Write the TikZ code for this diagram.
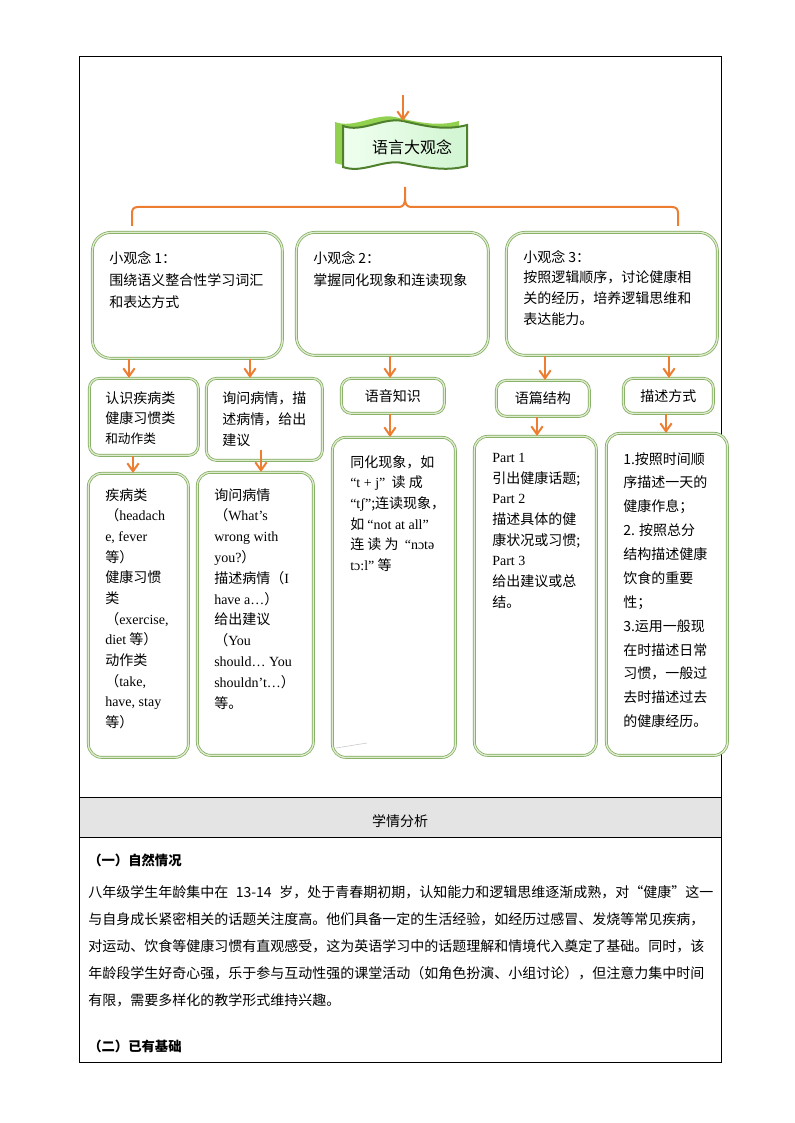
\documentclass[tikz,border=0pt]{standalone}
\usepackage{fontspec}
\setmainfont{Liberation Serif}
\newfontfamily\zh{Noto Sans CJK SC}
\usetikzlibrary{arrows.meta,calc}
\XeTeXlinebreaklocale "zh"
\XeTeXlinebreakskip=0pt plus 1pt
\definecolor{arrorange}{RGB}{237,125,49}
\definecolor{boxgreen}{RGB}{128,170,92}
\definecolor{boxlight}{RGB}{222,236,208}
\definecolor{ribbondark}{RGB}{79,128,45}
\definecolor{ribbonfold}{RGB}{146,208,80}
\definecolor{headgray}{RGB}{228,228,228}
\newcommand{\en}[1]{{\rmfamily #1}}

\tikzset{
  sz/.style 2 args={minimum width=#1*0.75pt, minimum height=#2*0.75pt},
  lead/.style={font=\zh\fontsize{10.5}{#1}\selectfont},
  bigbox/.style={draw=boxgreen, double=boxlight, double distance=1pt, line width=.55pt,
    fill=white, rounded corners=14pt, anchor=north west, inner sep=0pt, lead=15.5},
  smallbox/.style={bigbox, rounded corners=7.5pt},
  tallbox/.style={bigbox, rounded corners=10pt},
  txt/.style={anchor=north west, inner sep=0pt, align=left},
  arr/.style={draw=arrorange, line width=1.5pt, -{Straight Barb[length=6pt,width=8.5pt]}},
  rule/.style={draw=black, line width=.75pt},
}

\begin{document}
\begin{tikzpicture}[x=0.75pt,y=-0.75pt]
\useasboundingbox (0,0) rectangle (794,1123);

% table
\fill[headgray] (79,797) rectangle (721,837);
\draw[rule] (79,57) rectangle (721,1062);
\draw[rule] (79,797) -- (721,797);
\draw[rule] (79,837) -- (721,837);

% ribbon
\fill[ribbonfold, shift={(-8,-4)}] (343,126) .. controls (362,133) and (383,117) .. (403,121)
  .. controls (425,126) and (445,131) .. (467,125) -- (467,166)
  .. controls (445,172) and (425,167) .. (403,163)
  .. controls (383,159) and (362,174) .. (343,167) -- cycle;
\draw[ribbondark, line width=1.5pt, left color=green!6!white, right color=black!22!green!18!white]
  (343,126) .. controls (362,133) and (383,117) .. (403,121)
  .. controls (425,126) and (445,131) .. (467,125) -- (467,166)
  .. controls (445,172) and (425,167) .. (403,163)
  .. controls (383,159) and (362,174) .. (343,167) -- cycle;
\node[font=\zh\fontsize{12}{14}\selectfont] (idea) at (412,147) {语言大观念};
\coordinate (src) at (403,95);
\coordinate (idtop) at (403,121);
\draw[arr] (src) -- (idtop);

% brace
\draw[arrorange, line width=1.5pt] (132,226) -- (132,213) .. controls (132,209) and (134,207) .. (138,207)
  -- (399,207) .. controls (403,207) and (405,204) .. (405,199) -- (405,187);
\draw[arrorange, line width=1.5pt] (405,199) .. controls (405,204) and (407,207) .. (411,207)
  -- (672,207) .. controls (676,207) and (678,209) .. (678,213) -- (678,226);

% small ideas
\node[bigbox, sz={190}{126}] (obs1) at (92,232) {};
\node[bigbox, sz={192}{123}] (obs2) at (296,232) {};
\node[bigbox, sz={211}{123}] (obs3) at (506,232) {};
\node[txt, lead=16.5] (obs1t) at (109,251) {小观念 1：\\围绕语义整合性学习词汇\\和表达方式};
\node[txt, lead=16.5] (obs2t) at (313,251) {小观念 2：\\掌握同化现象和连读现象};
\node[txt, lead=15.5] (obs3t) at (523,250) {小观念 3：\\按照逻辑顺序，讨论健康相\\关的经历，培养逻辑思维和\\表达能力。};

% knowledge
\node[smallbox, sz={109}{77}] (ka) at (89,378) {};
\node[smallbox, sz={116}{82}] (kb) at (206,378) {};
\node[smallbox, sz={103}{35}] (kc) at (341,378) {语音知识};
\node[smallbox, sz={93}{36}] (kd) at (496,380) {语篇结构};
\node[smallbox, sz={90}{35}] (ke) at (623,378) {描述方式};
\node[txt, lead=15] (kat) at (105,391) {认识疾病类\\健康习惯类\\{\fontsize{9.5}{15}\selectfont 和动作类}};
\node[txt, lead=15.75] (kbt) at (222,391) {询问病情，描\\述病情，给出\\建议};

% details
\node[tallbox, sz={100}{284}] (da) at (88,473) {};
\node[tallbox, sz={116}{283}] (db) at (197,472) {};
\node[tallbox, sz={123}{320}] (dc) at (332,437) {};
\node[tallbox, sz={122}{319}] (dd) at (474,436) {};
\node[tallbox, sz={121}{322}] (de) at (606,433) {};
\draw[gray!45, line width=.4pt] (336,748) -- (367,743);

\node[txt, lead=15.5] (dat) at (105,488) {疾病类\\（\en{headach}\\\en{e, fever}\\等）\\健康习惯\\类\\（\en{exercise,}\\\en{diet} 等）\\动作类\\（\en{take,}\\\en{have, stay}\\等）};
\node[txt, lead=15.6] (dbt) at (214,488) {询问病情\\（\en{What's}\\\en{wrong with}\\\en{you?}）\\描述病情（\en{I}\\\en{have a\dots}）\\给出建议\\（\en{You}\\\en{should\dots\ You}\\\en{shouldn't\dots}）\\等。};
\node[txt, lead=15.5] (dct) at (350,455) {同化现象，如\\\en{“t + j”}\ \ 读 成\\\en{“tʃ”};连读现象，\\如 \en{“not at all”}\\连 读 为 \ \en{“nɔtə}\\\en{tɔ:l”} 等};
\node[txt, lead=15.5] (ddt) at (492,453) {\en{Part 1}\\引出健康话题;\\\en{Part 2}\\描述具体的健\\康状况或习惯;\\\en{Part 3}\\给出建议或总\\结。};
\node[txt, lead=17.9] (det) at (623,452) {1.按照时间顺\\序描述一天的\\健康作息；\\2. 按照总分\\结构描述健康\\饮食的重要\\性；\\3.运用一般现\\在时描述日常\\习惯，一般过\\去时描述过去\\的健康经历。};

% arrows
\draw[arr] (obs1.south -| 129,0) -- (ka.north -| 129,0);
\draw[arr] (obs1.south -| 250,0) -- (kb.north -| 250,0);
\draw[arr] (obs2.south -| 390,0) -- (kc.north -| 390,0);
\draw[arr] (obs3.south -| 545,0) -- (kd.north -| 545,0);
\draw[arr] (obs3.south -| 669,0) -- (ke.north -| 669,0);
\draw[arr] (ka.south -| 133,0) -- (da.north -| 133,0);
\draw[arr] ($(kb.south -| 261,0)+(0,-11)$) -- (db.north -| 261,0);
\draw[arr] (kc.south -| 390,0) -- (dc.north -| 390,0);
\draw[arr] (kd.south -| 537,0) -- (dd.north -| 537,0);
\draw[arr] (ke.south -| 666,0) -- (de.north -| 666,0);

% analysis
\node[lead=12] (title) at (400,821) {学情分析};
\node[lead=12, font=\zh\bfseries, anchor=base west, inner sep=0pt] (sec1) at (88,865) {（一）自然情况};
\node[txt, lead=20.4] (para) at (88,885) {\makebox[468.75pt][s]{八年级学生年龄集中在 13-14 岁，处于青春期初期，认知能力和逻辑思维逐渐成熟，对“健康”这一}\\
\makebox[468.75pt][s]{与自身成长紧密相关的话题关注度高。他们具备一定的生活经验，如经历过感冒、发烧等常见疾病，}\\
\makebox[468.75pt][s]{对运动、饮食等健康习惯有直观感受，这为英语学习中的话题理解和情境代入奠定了基础。同时，该}\\
\makebox[468.75pt][s]{年龄段学生好奇心强，乐于参与互动性强的课堂活动（如角色扮演、小组讨论），但注意力集中时间}\\
有限，需要多样化的教学形式维持兴趣。};
\node[lead=12, font=\zh\bfseries, anchor=base west, inner sep=0pt] (sec2) at (88,1051) {（二）已有基础};
\end{tikzpicture}
\end{document}
